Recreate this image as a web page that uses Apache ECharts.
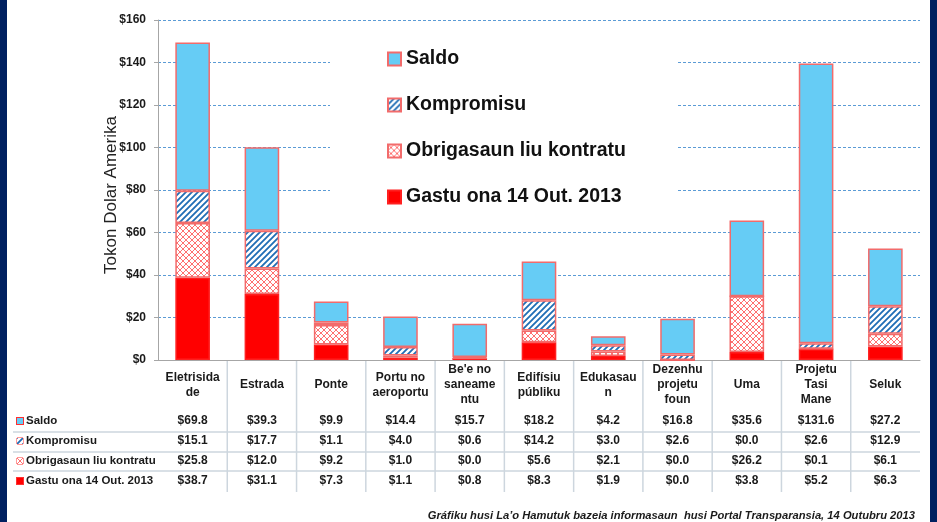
<!DOCTYPE html>
<html>
<head>
<meta charset="utf-8">
<script src="https://cdn.jsdelivr.net/npm/echarts@6/dist/echarts.min.js"></script>
<style>
  html, body { margin: 0; padding: 0; background: #fff; }
  #chart { width: 937px; height: 522px; }
</style>
</head>
<body>
<div id="chart"></div>
<script>
  // data (millions USD)
  var categories = ['Eletrisida\nde', 'Estrada', 'Ponte', 'Portu no\naeroportu', "Be'e no\nsaneame\nntu",
    'Edifísiu\npúbliku', 'Edukasau\nn', 'Dezenhu\nprojetu\nfoun', 'Uma', 'Projetu\nTasi\nMane', 'Seluk']
  var saldo = [69.8, 39.3, 9.9, 14.4, 15.7, 18.2, 4.2, 16.8, 35.6, 131.6, 27.2]
  var kompromisu = [15.1, 17.7, 1.1, 4.0, 0.6, 14.2, 3.0, 2.6, 0.0, 2.6, 12.9]
  var obrigasaun = [25.8, 12.0, 9.2, 1.0, 0.0, 5.6, 2.1, 0.0, 26.2, 0.1, 6.1]
  var gastu = [38.7, 31.1, 7.3, 1.1, 0.8, 8.3, 1.9, 0.0, 3.8, 5.2, 6.3]
  var seriesNames = ['Saldo', 'Kompromisu', 'Obrigasaun liu kontratu', 'Gastu ona 14 Out. 2013']

  var FONT = '"Liberation Sans Narrow", "Liberation Sans", sans-serif'
  var TABLE_LINE = '#cdd6de'

  // hatch tiles
  function tile(draw) {
    var c = document.createElement('canvas')
    c.width = 6
    c.height = 6
    var g = c.getContext('2d')
    g.fillStyle = '#fff'
    g.fillRect(0, 0, 6, 6)
    draw(g)
    return c
  }
  var stripeTile = tile(function(g) {
    g.strokeStyle = '#1f6db5'
    g.lineWidth = 1.8
    g.beginPath()
    g.moveTo(-1, 7); g.lineTo(7, -1)
    g.moveTo(-4, 4); g.lineTo(4, -4)
    g.moveTo(2, 10); g.lineTo(10, 2)
    g.stroke()
  })
  var crossTile = tile(function(g) {
    g.strokeStyle = '#ff7070'
    g.lineWidth = 1
    g.beginPath()
    g.moveTo(0, 6); g.lineTo(6, 0)
    g.moveTo(0, 0); g.lineTo(6, 6)
    g.stroke()
  })
  var colors = ['#66ccf5', { image: stripeTile, repeat: 'repeat' }, { image: crossTile, repeat: 'repeat' }, '#ff0000']
  var iconBg = ['#66ccf5', { image: stripeTile }, { image: crossTile }, '#ff0000']
  var rows = [saldo, kompromisu, obrigasaun, gastu]

  var chart = echarts.init(document.getElementById('chart'))

  var xAxes = [{
    type: 'category',
    data: categories,
    position: 'bottom',
    axisLine: { lineStyle: { color: '#a6a6a6', width: 1 } },
    axisTick: { show: false },
    axisLabel: {
      interval: 0, margin: 25, verticalAlign: 'middle', lineHeight: 15,
      fontSize: 12, fontWeight: 'bold', color: '#1a1a1a', fontFamily: FONT
    }
  }]
  rows.forEach(function(vals, i) {
    xAxes.push({
      type: 'category',
      data: vals.map(function(v) { return '$' + v.toFixed(1) }),
      position: 'bottom',
      offset: 61 + 20 * i,
      axisLine: { show: false },
      axisTick: { show: false },
      axisLabel: {
        interval: 0, margin: 0, verticalAlign: 'middle',
        fontSize: 12, fontWeight: 'bold', color: '#1a1a1a', fontFamily: FONT
      },
      name: '{i|}{t|' + seriesNames[i] + '}',
      nameLocation: 'start',
      nameGap: 141,
      nameMoveOverlap: false,
      nameTextStyle: {
        align: 'left',
        verticalAlign: 'middle',
        rich: {
          i: { width: 6, height: 6, backgroundColor: iconBg[i], borderColor: '#ff3030', borderWidth: 1 },
          t: { fontSize: 11.5, fontWeight: 'bold', color: '#1a1a1a', fontFamily: FONT, padding: [0, 0, 0, 3] }
        }
      }
    })
  })

  var stackOrder = [3, 2, 1, 0] // bottom to top
  var series = stackOrder.map(function(i) {
    return {
      name: seriesNames[i],
      type: 'bar',
      stack: 'total',
      barWidth: '50%',
      data: rows[i],
      itemStyle: {
        color: colors[i],
        borderColor: i === 3 ? '#ff2020' : '#f26b6b',
        borderWidth: 1.5
      }
    }
  })

  chart.setOption({
    animation: false,
    grid: { left: 158, right: 17, top: 20, bottom: 162 },
    legend: {
      data: seriesNames,
      orient: 'vertical',
      left: 330,
      top: 37,
      padding: [12, 51, 12, 57],
      itemGap: 26,
      itemWidth: 13,
      itemHeight: 13,
      icon: 'rect',
      backgroundColor: '#fff',
      textStyle: { fontSize: 19.5, fontWeight: 'bold', color: '#111', fontFamily: FONT }
    },
    xAxis: xAxes,
    yAxis: {
      type: 'value',
      min: 0,
      max: 160,
      interval: 20,
      name: 'Tokon Dolar Amerika',
      nameLocation: 'middle',
      nameRotate: 90,
      nameGap: 38,
      nameMoveOverlap: false,
      nameTextStyle: { fontSize: 17, color: '#222', fontFamily: FONT, padding: [0, 10, 0, 0] },
      axisLine: { show: true, lineStyle: { color: '#a6a6a6' } },
      axisTick: { show: true, length: 4, lineStyle: { color: '#a6a6a6' } },
      axisLabel: { formatter: '${value}', margin: 12, fontSize: 12, fontWeight: 'bold', color: '#1a1a1a', fontFamily: FONT },
      splitLine: { lineStyle: { color: '#5b9bd5', type: [3, 2], width: 1 } }
    },
    series: series
  })

  // table grid: row separators and column separators placed through the category scale
  var lines = [432, 452, 471].map(function(y) {
    return { type: 'line', shape: { x1: 13, y1: y, x2: 920, y2: y }, style: { stroke: TABLE_LINE, lineWidth: 1.5 } }
  })
  for (var k = 1; k < categories.length; k++) {
    var x = (chart.convertToPixel({ xAxisIndex: 0 }, k - 1) + chart.convertToPixel({ xAxisIndex: 0 }, k)) / 2
    lines.push({ type: 'line', shape: { x1: x, y1: 361, x2: x, y2: 492 }, style: { stroke: TABLE_LINE, lineWidth: 1.5 } })
  }

  chart.setOption({
    graphic: lines.concat([
      { type: 'rect', left: 0, top: 0, shape: { width: 7, height: 522 }, style: { fill: '#002060' } },
      { type: 'rect', left: 930, top: 0, shape: { width: 7, height: 522 }, style: { fill: '#002060' } },
      {
        type: 'text', right: 22, top: 510,
        style: {
          text: 'Gráfiku husi La’o Hamutuk bazeia informasaun  husi Portal Transparansia, 14 Outubru 2013',
          font: 'italic bold 11.2px ' + FONT, fill: '#1a1a1a'
        }
      }
    ])
  })
</script>
</body>
</html>
